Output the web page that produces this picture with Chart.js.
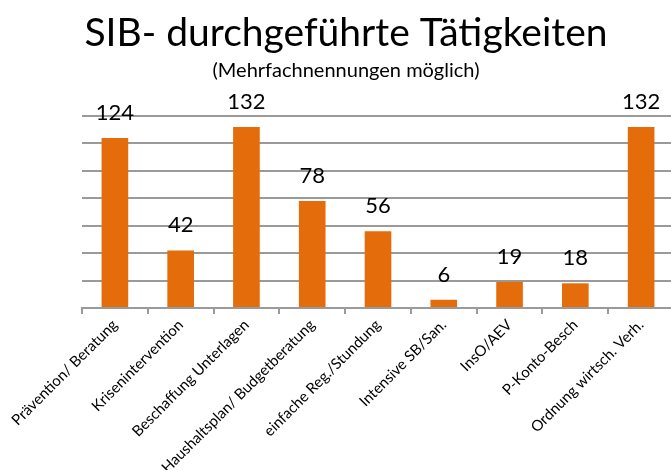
<!DOCTYPE html>
<html>
<head>
<meta charset="utf-8">
<script src="https://cdn.jsdelivr.net/npm/chart.js@4.4.0/dist/chart.umd.min.js"></script>
<style>
  html, body { margin: 0; padding: 0; overflow: hidden; background: #fff; }
  #wrap { width: 674px; height: 470px; }
</style>
</head>
<body>
<div id="wrap"><canvas id="myChart" width="674" height="470"></canvas></div>
<script>
const categories = [
    'Prävention/ Beratung',
    'Krisenintervention',
    'Beschaffung Unterlagen',
    'Haushaltsplan/ Budgetberatung',
    'einfache Reg./Stundung',
    'Intensive SB/San.',
    'InsO/AEV',
    'P-Konto-Besch',
    'Ordnung wirtsch. Verh.'
];
const values = [124, 42, 132, 78, 56, 6, 19, 18, 132];
const yMax = 140;
const yStep = 20;

const barColor = '#E46C0A';
const gridColor = '#9a9a9a';

// value labels above each bar
const valueLabels = {
    id: 'valueLabels',
    afterDatasetsDraw(chart) {
        const ctx = chart.ctx;
        const meta = chart.getDatasetMeta(0);
        ctx.save();
        ctx.font = '22px Lato';
        ctx.fillStyle = '#000';
        ctx.textAlign = 'center';
        ctx.textBaseline = 'middle';
        meta.data.forEach((bar, i) => {
            ctx.fillText(values[i], bar.x, bar.y - 25);
        });
        ctx.restore();
    }
};

const ctx = document.getElementById('myChart');

new Chart(ctx, {
    type: 'bar',
    data: {
        labels: categories,
        datasets: [{
            label: 'Tätigkeiten',
            data: values,
            backgroundColor: barColor,
            borderWidth: 0,
            barPercentage: 0.405,
            categoryPercentage: 1
        }]
    },
    options: {
        responsive: false,
        animation: false,
        layout: { padding: { left: 18, right: 0, top: 0, bottom: 0 } },
        plugins: {
            legend: { display: false },
            tooltip: { enabled: false },
            title: {
                display: true,
                text: 'SIB- durchgeführte Tätigkeiten',
                color: '#000',
                font: { family: 'Lato', size: 39, weight: 'normal' },
                padding: { top: 10, bottom: 2 }
            },
            subtitle: {
                display: true,
                text: '(Mehrfachnennungen möglich)',
                color: '#000',
                font: { family: 'Lato', size: 20, weight: 'normal' },
                padding: { top: 0, bottom: 33.2 }
            }
        },
        scales: {
            x: {
                grid: {
                    offset: true,
                    drawOnChartArea: false,
                    color: gridColor,
                    lineWidth: 2,
                    tickLength: 6
                },
                border: { color: gridColor, width: 2 },
                ticks: {
                    color: '#000',
                    font: { family: 'Lato', size: 15 },
                    minRotation: 45,
                    maxRotation: 45,
                    autoSkip: false,
                    padding: 2
                },
                afterFit: (scale) => { scale.height = 162; }
            },
            y: {
                min: 0,
                max: yMax,
                ticks: { stepSize: yStep, display: false },
                grid: { color: gridColor, lineWidth: 2, drawTicks: false },
                border: { display: false },
                afterFit: (scale) => { scale.width = 64; }
            }
        }
    },
    plugins: [valueLabels]
});
</script>
</body>
</html>
